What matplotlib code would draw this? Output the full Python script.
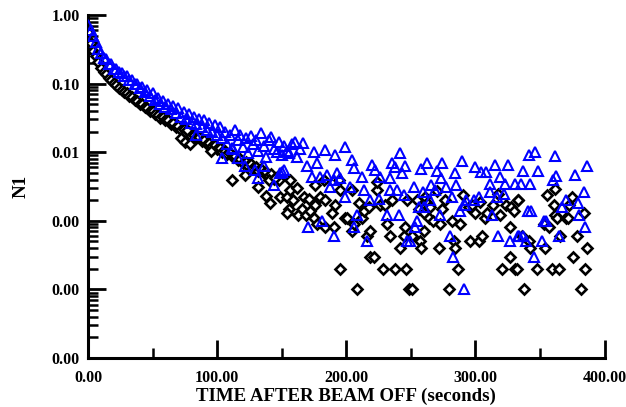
import numpy as np
import matplotlib
matplotlib.use("Agg")
import matplotlib.pyplot as plt
from matplotlib.ticker import FixedLocator, LogLocator, FormatStrFormatter

# ---- black diamonds: dense early decay (time s, N1)
t_blk_a = [0, 2, 4, 6, 8, 10, 12, 14, 16, 18, 20, 22, 24, 26, 28, 30, 32, 34, 36, 38,
           40, 42, 44, 46, 48, 50, 52, 54, 56, 58, 60, 62, 64, 66, 68, 70, 72, 74, 76, 78,
           80, 82, 84, 86, 88, 90, 92, 94, 96, 98, 100, 102, 104, 106, 108, 110, 112, 114,
           116, 118, 120, 122, 124, 126, 128, 130, 132, 134, 136, 138, 140, 142, 144, 146, 148]
n_blk_a = [0.56, 0.39, 0.30, 0.25, 0.205, 0.170, 0.148, 0.137, 0.122, 0.114, 0.103, 0.097,
           0.087, 0.082, 0.075, 0.072, 0.065, 0.063, 0.057, 0.056, 0.051, 0.050, 0.045, 0.044,
           0.040, 0.040, 0.036, 0.035, 0.032, 0.033, 0.029, 0.029, 0.026, 0.027, 0.023, 0.024,
           0.021, 0.022, 0.019, 0.020, 0.017, 0.018, 0.0160, 0.0165, 0.0145, 0.0150, 0.0132,
           0.0137, 0.0122, 0.0126, 0.0112, 0.0115, 0.0102, 0.0105, 0.0093, 0.0096, 0.0085,
           0.0087, 0.0077, 0.0080, 0.0070, 0.0073, 0.0064, 0.0067, 0.0058, 0.0061, 0.0053,
           0.0056, 0.0049, 0.0052, 0.0045, 0.0048, 0.0041, 0.0044, 0.0039]

# ---- black diamonds: noisy tail
t_blk_b = [72, 75, 77, 79, 95, 111.4, 121.7, 132, 138, 139.8, 140.8, 145, 148.8, 154, 156.6,
           155.3, 154, 159, 161.8, 163, 156.6, 165.6, 167, 169, 171, 172.1, 174.7, 176, 176,
           177.3, 179.8, 182.4, 183.7, 183.7, 188.9, 190.2, 191.5, 194, 195.3, 195.3, 198.7,
           200.5, 204.4, 204.4, 205.7, 208.3, 209.5, 212.2, 213.4, 216, 217.3, 218.6, 218.6,
           221.2, 223.8, 223.8, 226.4, 228.6, 230.2, 231.6, 234, 235.4, 237.6, 241.9, 244.4,
           245.7, 245.9, 247, 248.3, 250.9, 250.9, 254.8, 256, 257.4, 257.9, 260, 260, 261.2,
           262.6, 264, 265, 267, 270.3, 271.6, 272.9, 274.2, 276.7, 279.3, 281.9, 283.2,
           284.5, 286.6, 287.9, 290.4, 294.8, 295.6, 297.4, 300, 302.6, 303.9, 305.2, 307.8,
           309, 313.6, 317.3, 318.9, 320.7, 324, 326.6, 327.1, 327.7, 329.7, 331, 332.3,
           332.8, 333.1, 336.2, 337.5, 341.3, 342.6, 347.8, 353, 353.7, 355.6, 356.8, 359.4,
           360.7, 361.5, 362, 363.3, 364.6, 365.9, 369.8, 371.6, 372.3, 375, 375.5, 378.8,
           381.4, 384, 384.7, 386.6]
n_blk_b = [0.016, 0.014, 0.021, 0.013, 0.0105, 0.0039, 0.0047, 0.0031, 0.0023, 0.0039,
           0.0018, 0.0042, 0.0022, 0.0022, 0.0028, 0.0015, 0.0013, 0.0020, 0.0030, 0.0012,
           0.0040, 0.0015, 0.0022, 0.0012, 0.0021, 0.0014, 0.0011, 0.0033, 0.0017, 0.0009,
           0.0022, 0.0039, 0.0020, 0.0008, 0.0013, 0.0008, 0.0017, 0.0039, 0.0028, 0.0002,
           0.0011, 0.0011, 0.0028, 0.0007, 0.0009, 0.0001, 0.0018, 0.0011, 0.0014, 0.0006,
           0.0016, 0.0007, 0.0003, 0.0003, 0.0028, 0.0037, 0.0017, 0.0002, 0.0017, 0.0009,
           0.0006, 0.0020, 0.0002, 0.0004, 0.0006, 0.0008, 0.0002, 0.0020, 0.0001, 0.0006,
           0.0001, 0.0020, 0.0015, 0.0005, 0.0004, 0.0013, 0.0007, 0.0022, 0.0018, 0.0011,
           0.0016, 0.0010, 0.0027, 0.0004, 0.0009, 0.0015, 0.0020, 0.0001, 0.0010, 0.0005,
           0.0004, 0.0002, 0.0009, 0.0024, 0.0016, 0.0005, 0.0017, 0.0013, 0.0005, 0.0019,
           0.0006, 0.0011, 0.0013, 0.0017, 0.0025, 0.0012, 0.0002, 0.0017, 0.0008, 0.0003,
           0.0016, 0.0014, 0.0002, 0.0002, 0.0020, 0.0020, 0.0006, 0.0001, 0.0005, 0.0004,
           0.0002, 0.0009, 0.0004, 0.0024, 0.0008, 0.0002, 0.0017, 0.0029, 0.0012, 0.0011,
           0.0002, 0.0006, 0.0011, 0.0011, 0.0017, 0.0022, 0.0003, 0.0006, 0.0001, 0.0013,
           0.0002, 0.0004]

# ---- blue triangles: dense early decay
t_blu_a = [0, 2, 4, 6, 8, 10, 12, 14, 16, 18, 20, 22, 24, 26, 28, 30, 32, 34, 36, 38,
           40, 42, 44, 46, 48, 50, 52, 54, 56, 58, 60, 62, 64, 66, 68, 70, 72, 74, 76, 78,
           80, 82, 84, 86, 88, 90, 92, 94, 96, 98, 100]
n_blu_a = [0.72, 0.60, 0.49, 0.41, 0.32, 0.28, 0.235, 0.225, 0.196, 0.190, 0.166, 0.163,
           0.146, 0.143, 0.128, 0.127, 0.113, 0.113, 0.099, 0.100, 0.086, 0.089, 0.076,
           0.080, 0.066, 0.072, 0.058, 0.062, 0.051, 0.056, 0.046, 0.051, 0.042, 0.047,
           0.037, 0.044, 0.033, 0.039, 0.030, 0.036, 0.027, 0.033, 0.026, 0.030, 0.023,
           0.029, 0.021, 0.027, 0.020, 0.025, 0.018]

# ---- blue triangles: noisy tail
t_blu_b = [102, 104, 106, 108, 110, 112, 114, 116, 118, 120, 122, 124, 126, 128, 130, 132,
           134, 136, 138, 140, 142, 144, 146, 148, 150, 152, 154, 156, 158, 160, 162, 164,
           83.7, 103.6, 111.4, 116.5, 121.7, 129.5, 132, 135.9, 143.7, 149, 150, 151.4,
           166.4, 169.5, 170, 173.4, 174.7, 177.3, 179.8, 181.2, 183.7, 185, 187.6, 190.2,
           190.2, 191.5, 192.8, 195.3, 198.7, 199.2, 203, 204.4, 205.7, 205.7, 208.3, 212.2,
           213.4, 216, 218.6, 219.9, 222.5, 225, 226.4, 231.6, 233.6, 234.1, 235.4, 238,
           239.3, 240.5, 241.9, 243.2, 244.4, 245.7, 247, 249.6, 252.2, 253.5, 254.8, 256,
           258, 259.4, 260.5, 262.6, 265, 265.6, 269, 270.3, 272.3, 273.4, 274.2, 277.5,
           280.6, 281.9, 282.7, 284.5, 285.3, 287.9, 289.7, 291, 292.2, 293, 298.7, 299.5,
           302.6, 304.6, 308.5, 311, 311.6, 313, 315.5, 316.8, 317.3, 319.4, 322, 323,
           325.3, 327.1, 331, 332.8, 333.6, 335.7, 336.7, 336.7, 338.8, 340.8, 341.3, 342.6,
           343.4, 345.7, 346.5, 348.6, 351.7, 353, 354.3, 360, 361.5, 362.6, 364.6, 366.7,
           369.8, 377, 379.6, 380.6, 384, 384.7, 386.6]
n_blu_b = [0.023, 0.016, 0.020, 0.013, 0.018, 0.011, 0.021, 0.015, 0.018, 0.012, 0.016,
           0.0098, 0.017, 0.013, 0.015, 0.0105, 0.019, 0.0125, 0.0086, 0.015, 0.0168, 0.011,
           0.0101, 0.014, 0.0090, 0.0125, 0.0105, 0.0097, 0.013, 0.0142, 0.0085, 0.011,
           0.0178, 0.0081, 0.0114, 0.0081, 0.0062, 0.0055, 0.0042, 0.0062, 0.0033, 0.0050,
           0.0052, 0.0055,
           0.0135, 0.0062, 0.0008, 0.0043, 0.0101, 0.0070, 0.0044, 0.0010, 0.0108, 0.0047,
           0.0031, 0.0039, 0.0006, 0.0091, 0.0049, 0.0042, 0.0121, 0.0022, 0.0031, 0.0077,
           0.0058, 0.0008, 0.0012, 0.0043, 0.0028, 0.0005, 0.0020, 0.0065, 0.0055, 0.0021,
           0.0044, 0.0012, 0.0042, 0.0028, 0.0070, 0.0060, 0.0028, 0.0012, 0.0097, 0.0049,
           0.0024, 0.0063, 0.0005, 0.0005, 0.0031, 0.0008, 0.0010, 0.0016, 0.0056, 0.0026,
           0.0016, 0.0069, 0.0020, 0.0033, 0.0028, 0.0054, 0.0012, 0.0042, 0.0069, 0.0031,
           0.0006, 0.0022, 0.0003, 0.0049, 0.0033, 0.0014, 0.0075, 0.0001, 0.0017, 0.0020,
           0.0020, 0.0060, 0.0022, 0.0052, 0.0052, 0.0026, 0.0034, 0.0012, 0.0065, 0.0022,
           0.0006, 0.0043, 0.0025, 0.0034, 0.0065, 0.0005, 0.0034, 0.0006, 0.0006, 0.0034,
           0.0054, 0.0006, 0.0005, 0.0014, 0.0091, 0.0034, 0.0014, 0.0003, 0.0101, 0.0054,
           0.0005, 0.0010, 0.0010, 0.0040, 0.0089, 0.0045, 0.0006, 0.0016, 0.0020, 0.0047,
           0.0018, 0.0012, 0.0026, 0.0008, 0.0062]

plt.rcParams['font.family'] = ['Liberation Serif', 'DejaVu Serif']
plt.rcParams['font.weight'] = 'bold'

fig = plt.figure(figsize=(6.26, 4.07), dpi=100)
ax = fig.add_axes([0.1406, 0.1204, 0.8251, 0.8427])

ax.plot(t_blk_a + t_blk_b, n_blk_a + n_blk_b, linestyle='none', marker='D', markersize=4.8,
        markerfacecolor='white', markeredgecolor='black', markeredgewidth=1.9, zorder=3)
ax.plot(t_blu_a + t_blu_b, n_blu_a + n_blu_b, linestyle='none', marker='^', markersize=7,
        markerfacecolor='none', markeredgecolor='#0000ff', markeredgewidth=1.5, zorder=4)

ax.set_yscale('log')
ax.set_xlim(0, 400)
ax.set_ylim(1e-5, 1)

for s in ['top', 'right']:
    ax.spines[s].set_visible(False)
for s in ['left', 'bottom']:
    ax.spines[s].set_linewidth(2.2)

ax.xaxis.set_major_locator(FixedLocator([0, 100, 200, 300, 400]))
ax.xaxis.set_minor_locator(FixedLocator([50, 150, 250, 350]))
ax.xaxis.set_major_formatter(FormatStrFormatter('%.2f'))
ax.yaxis.set_major_locator(LogLocator(base=10, numticks=10))
ax.yaxis.set_minor_locator(LogLocator(base=10, subs=np.arange(2, 10), numticks=10))
ax.yaxis.set_major_formatter(FormatStrFormatter('%.2f'))

ax.tick_params(which='major', direction='in', length=13, width=2, labelsize=11.5, pad=6)
ax.tick_params(axis='x', which='major', pad=9)
ax.tick_params(which='minor', direction='in', length=7, width=1.8)
for lab in ax.get_xticklabels() + ax.get_yticklabels():
    lab.set_fontweight('bold')

ax.set_xlabel('TIME AFTER BEAM OFF (seconds)', fontsize=13.6, fontweight='bold', labelpad=1)
ax.set_ylabel('N1', fontsize=13.6, fontweight='bold', labelpad=16)

fig.savefig('out.png', dpi=100)
